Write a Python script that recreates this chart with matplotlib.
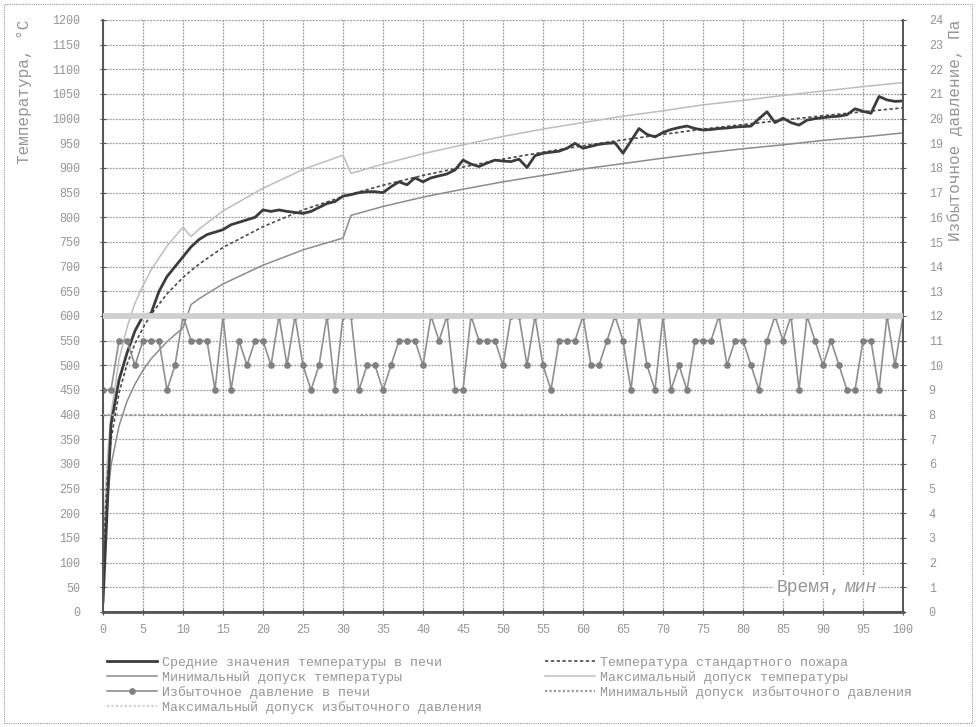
import matplotlib.pyplot as plt
from matplotlib.lines import Line2D
from matplotlib.patches import Rectangle

# ---------------- данные ----------------
t_avg = list(range(0, 101))
temp_avg = [20, 380, 470, 525, 570, 600, 605, 650, 680, 700, 720,
            740, 755, 765, 770, 775, 785, 790, 795, 800, 815,
            812, 815, 812, 810, 808, 812, 820, 828, 832, 843,
            846, 850, 852, 852, 850, 862, 872, 866, 880, 872,
            880, 884, 888, 896, 916, 908, 903, 910, 916, 914,
            913, 918, 901, 925, 930, 932, 934, 940, 950, 940,
            944, 948, 950, 951, 930, 955, 980, 968, 963, 972,
            978, 982, 985, 980, 977, 978, 980, 981, 983, 984,
            985, 1000, 1014, 992, 1001, 992, 987, 997, 1000, 1002,
            1004, 1005, 1008, 1020, 1015, 1011, 1045, 1038, 1035, 1036]

t_std = [0, 0.25, 0.5, 1, 2, 3, 4, 5, 6, 8, 10, 11, 12, 15, 20, 25, 30, 31,
         35, 40, 45, 50, 55, 60, 65, 70, 75, 80, 85, 90, 95, 100]
temp_std = [20, 185, 261, 349, 444, 502, 544, 576, 603, 645, 678, 692, 705, 739,
            781, 815, 842, 847, 865, 885, 902, 918, 932, 945, 957, 968, 979,
            988, 997, 1006, 1014, 1022]
temp_max = [23, 213, 300, 401, 511, 577, 626, 662, 693, 742, 780, 761, 776, 813,
            859, 897, 926, 889, 908, 929, 947, 964, 979, 992, 1005, 1016, 1028,
            1037, 1047, 1056, 1065, 1073]
temp_min = [17, 157, 222, 297, 377, 427, 462, 490, 513, 548, 576, 623, 635, 665,
            703, 734, 758, 804, 822, 841, 857, 872, 885, 898, 909, 920, 930,
            939, 947, 956, 963, 971]

t_p = list(range(0, 101))
press = [9, 9, 11, 11, 10, 11, 11, 11, 9, 10, 12,
         11, 11, 11, 9, 12, 9, 11, 10, 11, 11,
         10, 12, 10, 12, 10, 9, 10, 12, 9, 12,
         12, 9, 10, 10, 9, 10, 11, 11, 11, 10,
         12, 11, 12, 9, 9, 12, 11, 11, 11, 10,
         12, 12, 10, 12, 10, 9, 11, 11, 11, 12,
         10, 10, 11, 12, 11, 9, 12, 10, 9, 12,
         9, 10, 9, 11, 11, 11, 12, 10, 11, 11,
         10, 9, 11, 12, 11, 12, 9, 12, 11, 10,
         11, 10, 9, 9, 11, 11, 9, 12, 10, 12]
p_max = 12
p_min = 8

labels_left = ["Средние значения температуры в печи",
               "Минимальный допуск температуры",
               "Избыточное давление в печи",
               "Максимальный допуск избыточного давления"]
labels_right = ["Температура стандартного пожара",
                "Максимальный допуск температуры",
                "Минимальный допуск избыточного давления"]

# ---------------- оформление ----------------
FONT = "Liberation Mono"
TXT = "#959595"
c_avg = "#3c3c3c"
c_std = "#4a4a4a"
c_min = "#8c8c8c"
c_max = "#bdbdbd"
c_p = "#8f8f8f"
c_pmax = "#d0d0d0"
c_pmin = "#9a9a9a"

plt.rcParams['font.family'] = [FONT, 'DejaVu Sans']

fig = plt.figure(figsize=(9.76, 7.27), dpi=100)
fig.patches.append(Rectangle((4 / 976, 4 / 727), 968 / 976, 719 / 727,
                             transform=fig.transFigure, fill=False,
                             edgecolor="#9a9a9a", lw=0.8, ls=(0, (1, 1))))

ax = fig.add_axes([103 / 976, 1 - 612 / 727, 800 / 976, 592 / 727])
ax2 = ax.twinx()

ax.set_xlim(0, 100)
ax.set_ylim(0, 1200)
ax2.set_ylim(0, 24)
ax.set_xticks(range(0, 101, 5))
ax.set_yticks(range(0, 1201, 50))
ax2.set_yticks(range(0, 25))

ax.grid(True, color="#9c9c9c", lw=0.9, ls=(0, (1.5, 1)))
ax.set_axisbelow(True)

for a in (ax, ax2):
    a.spines['top'].set_visible(False)
    for s in ('left', 'right', 'bottom'):
        a.spines[s].set_color("#555555")
        a.spines[s].set_linewidth(1.2)
    a.tick_params(colors="#555555", labelcolor=TXT, labelsize=8.5,
                  direction='inout', length=5, width=0.8)
ax.spines['bottom'].set_linewidth(2)
ax.tick_params(axis='x', pad=6)
ax.tick_params(axis='y', pad=14)
ax2.tick_params(axis='y', pad=16)

# линии температуры
l_max, = ax.plot(t_std, temp_max, color=c_max, lw=1.1)
l_min, = ax.plot(t_std, temp_min, color=c_min, lw=1.1)
l_std, = ax.plot(t_std, temp_std, color=c_std, lw=1.2, ls=(0, (2, 1.5)))
l_avg, = ax.plot(t_avg, temp_avg, color=c_avg, lw=2.0)

# давление
l_p, = ax2.plot(t_p, press, color=c_p, lw=1.2, marker='o', ms=3.8,
                mfc="#808080", mec="#808080", zorder=2)
l_pmax = ax2.axhline(p_max, color=c_pmax, lw=4.2, zorder=3)
l_pmin = ax2.axhline(p_min, color=c_pmin, lw=1.6, ls=(0, (1, 1)), zorder=3)

# подписи осей
fig.text(25 / 976, 1 - 20 / 727, "Температура, °С", rotation=90,
         ha='center', va='top', color=TXT, fontsize=11.5)
fig.text(955 / 976, 1 - 20 / 727, "Избыточное давление, Па", rotation=90,
         ha='center', va='top', color=TXT, fontsize=11.5)
ax.text(92.3, 50, "Время,", ha='right', va='center', color=TXT,
        fontsize=13, bbox=dict(facecolor='white', edgecolor='none', pad=2.5))
ax.text(92.6, 50, "мин", ha='left', va='center', color=TXT, style='italic',
        fontsize=13, bbox=dict(facecolor='white', edgecolor='none', pad=2.5))

# легенда
h_left = [l_avg, l_min, Line2D([], [], color=c_p, lw=1.2, marker='o', ms=3.8,
                               mfc="#808080", mec="#808080"),
          Line2D([], [], color=c_pmax, lw=1.6, ls=(0, (1, 1)))]
h_right = [l_std, l_max, l_pmin]
leg1 = fig.legend(h_left, labels_left, loc='upper left',
                  bbox_to_anchor=(100 / 976, 1 - 650 / 727), frameon=False,
                  handlelength=3.8, handletextpad=0.4, labelspacing=0.15,
                  fontsize=9.5, labelcolor=TXT, borderpad=0)
leg2 = fig.legend(h_right, labels_right, loc='upper left',
                  bbox_to_anchor=(538 / 976, 1 - 650 / 727), frameon=False,
                  handlelength=3.8, handletextpad=0.4, labelspacing=0.15,
                  fontsize=9.5, labelcolor=TXT, borderpad=0)

fig.savefig("out.png", dpi=100)
